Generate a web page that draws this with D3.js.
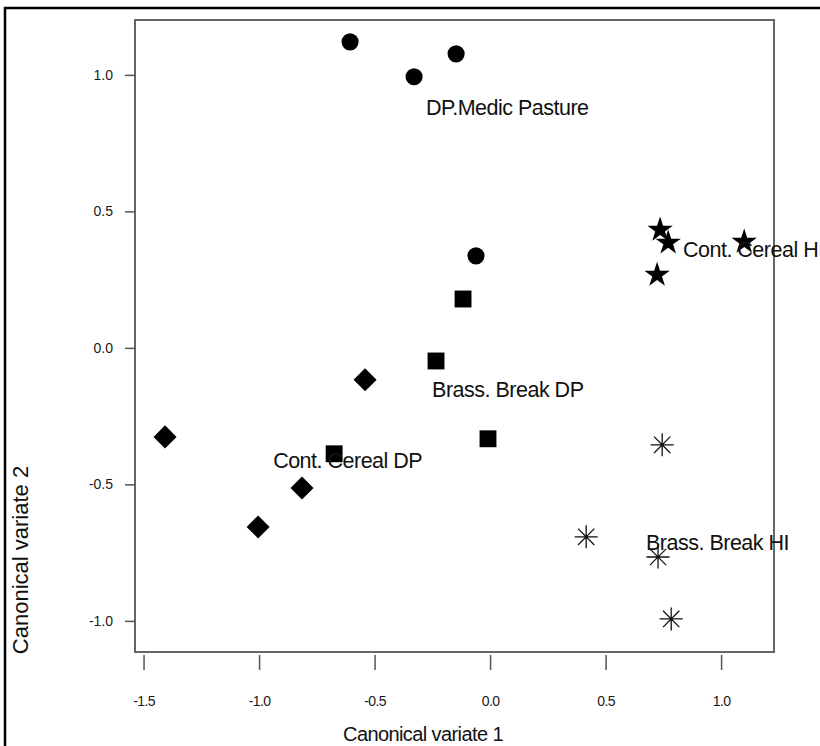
<!DOCTYPE html>
<html lang="en">
<head>
  <meta charset="UTF-8">
  <title>Canonical variates</title>
  <script src="https://d3js.org/d3.v7.min.js"></script>
  <style>
    body { margin: 0; background: #fff; }
    text { font-family: "Liberation Sans", Arial, sans-serif; fill: #111; }
    .tick text { fill: #1a1a1a; }
    .tick line { stroke: #555; stroke-width: 1.5px; }
  </style>
</head>
<body>
<script>
var width = 820,
    height = 746;

// group names, symbols and label anchors (data units)
var groups = ["DP.Medic Pasture", "Cont. Cereal HI", "Brass. Break DP", "Cont. Cereal DP", "Brass. Break HI"];
var groupShape = ["circle", "star", "square", "diamond", "asterisk"];
var labelX = [-0.277, 0.835, -0.251, -0.939, 0.675];
var labelY = [0.879, 0.359, -0.154, -0.414, -0.714];

// scores
var cv1 = [
  [-0.606, -0.329, -0.147, -0.061],
  [0.736, 0.771, 0.723, 1.10],
  [-0.117, -0.234, -0.009, -0.675],
  [-0.541, -1.407, -0.814, -1.004],
  [0.745, 0.416, 0.727, 0.784]
];
var cv2 = [
  [1.121, 0.993, 1.077, 0.337],
  [0.432, 0.385, 0.267, 0.388],
  [0.179, -0.048, -0.333, -0.388],
  [-0.117, -0.326, -0.513, -0.656],
  [-0.355, -0.692, -0.766, -0.993]
];

var xTicks = [-1.5, -1.0, -0.5, 0.0, 0.5, 1.0];
var yTicks = [-1.0, -0.5, 0.0, 0.5, 1.0];

var box = {left: 135, right: 774, top: 20, bottom: 652};

var x = d3.scaleLinear().domain([-1.537, 1.229]).range([box.left, box.right]);
var y = d3.scaleLinear().domain([-1.114, 1.201]).range([box.bottom, box.top]);

// plain hyphen for negatives, like the original
var fmt = function(d) { return d.toFixed(1); };

var svg = d3.select("body").append("svg")
    .attr("width", width)
    .attr("height", height);

// outer frame (runs off the right and bottom edges)
svg.append("rect")
    .attr("x", 5).attr("y", 8)
    .attr("width", 840).attr("height", 770)
    .attr("fill", "none")
    .attr("stroke", "#000")
    .attr("stroke-width", 2.5);

// plot box
svg.append("rect")
    .attr("x", box.left).attr("y", box.top)
    .attr("width", box.right - box.left).attr("height", box.bottom - box.top)
    .attr("fill", "none")
    .attr("stroke", "#666")
    .attr("stroke-width", 2);

var xAxis = svg.append("g")
    .attr("transform", "translate(0," + (box.bottom + 3) + ")")
    .call(d3.axisBottom(x).tickValues(xTicks).tickFormat(fmt).tickSize(15).tickPadding(26));
xAxis.select(".domain").remove();
xAxis.selectAll("text").style("font-size", "14px").style("letter-spacing", "-0.6px");

var yAxis = svg.append("g")
    .attr("transform", "translate(" + box.left + ",0)")
    .call(d3.axisLeft(y).tickValues(yTicks).tickFormat(fmt).tickSize(10).tickPadding(12));
yAxis.select(".domain").remove();
yAxis.selectAll("text").style("font-size", "14px");

// axis titles
svg.append("text")
    .attr("x", 423).attr("y", 741)
    .attr("text-anchor", "middle")
    .style("font-size", "20px")
    .style("letter-spacing", "-0.6px")
    .text("Canonical variate 1");

svg.append("text")
    .attr("transform", "translate(28,560) rotate(-90)")
    .attr("text-anchor", "middle")
    .style("font-size", "22px")
    .text("Canonical variate 2");

// 8-armed asterisk
var asterisk = {
  draw: function(context, size) {
    var r = Math.sqrt(size) / 2;
    var d = r * Math.SQRT1_2;
    context.moveTo(0, -r); context.lineTo(0, r);
    context.moveTo(-r, 0); context.lineTo(r, 0);
    context.moveTo(-d, -d); context.lineTo(d, d);
    context.moveTo(-d, d); context.lineTo(d, -d);
  }
};

var symbolFor = {
  circle:   d3.symbol().type(d3.symbolCircle).size(230),
  square:   d3.symbol().type(d3.symbolSquare).size(285),
  diamond:  d3.symbol().type(d3.symbolSquare).size(265),
  star:     d3.symbol().type(d3.symbolStar).size(200),
  asterisk: d3.symbol().type(asterisk).size(530)
};

var points = [];
groups.forEach(function(g, i) {
  cv1[i].forEach(function(v, j) {
    points.push({group: i, shape: groupShape[i], cx: v, cy: cv2[i][j]});
  });
});

svg.append("g").selectAll("path")
    .data(points)
  .enter().append("path")
    .attr("d", function(d) { return symbolFor[d.shape](); })
    .attr("transform", function(d) {
      return "translate(" + x(d.cx) + "," + y(d.cy) + ")" + (d.shape === "diamond" ? " rotate(45)" : "");
    })
    .attr("fill", function(d) { return d.shape === "asterisk" ? "none" : "#000"; })
    .attr("stroke", function(d) { return d.shape === "asterisk" ? "#111" : "none"; })
    .attr("stroke-width", 1.3);

// group labels
svg.append("g").selectAll("text")
    .data(groups)
  .enter().append("text")
    .attr("x", function(d, i) { return x(labelX[i]); })
    .attr("y", function(d, i) { return y(labelY[i]); })
    .attr("dy", "0.35em")
    .style("font-size", "21.5px")
    .style("letter-spacing", "-0.5px")
    .text(function(d) { return d; });
</script>
</body>
</html>
